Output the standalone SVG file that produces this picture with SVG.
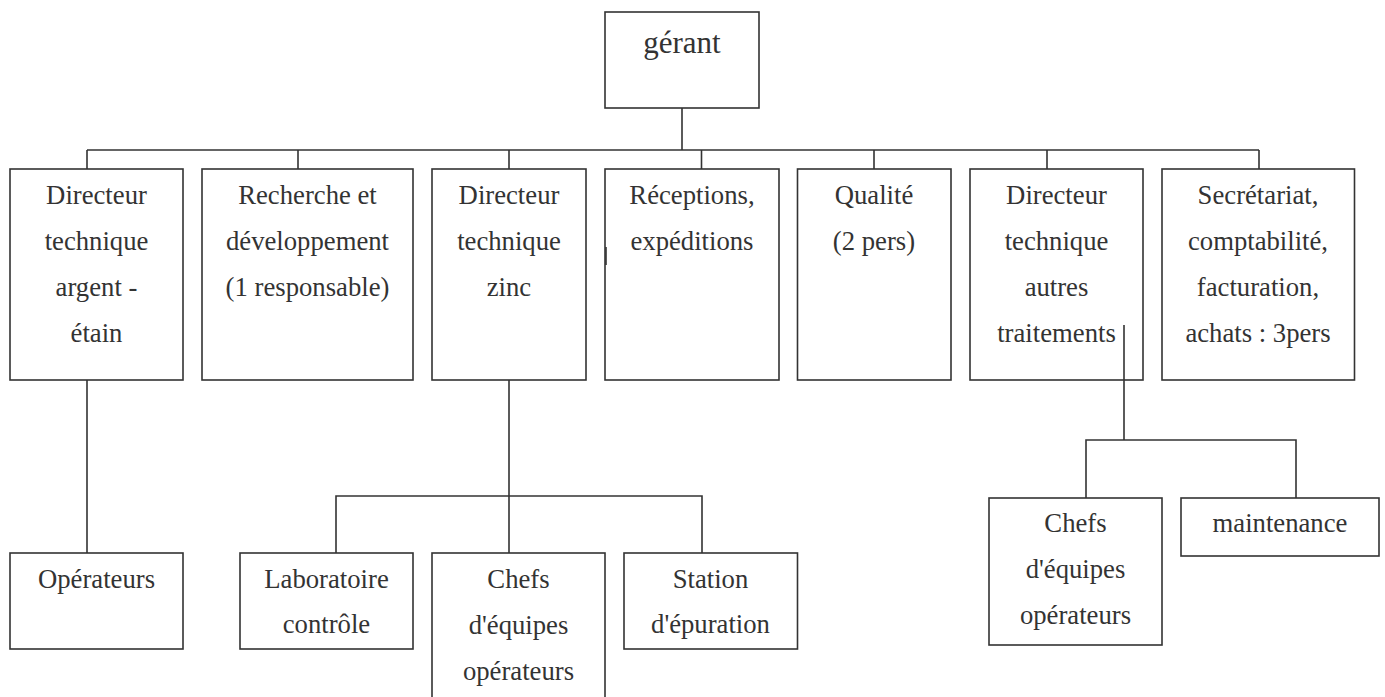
<svg xmlns="http://www.w3.org/2000/svg" width="1385" height="697" viewBox="0 0 1385 697">
<style>
.box{fill:#fff;stroke:#333;stroke-width:1.6}
.ln{fill:none;stroke:#333;stroke-width:1.6}
text{font-family:"Liberation Serif","Times New Roman",serif;font-size:26.7px;fill:#333;text-anchor:middle}
.big{font-size:31px}
</style>
<rect width="1385" height="697" fill="#fff"/>
<g id="gerant"><rect class="box" x="605" y="12" width="154" height="96"/><text class="big" x="682" y="53">gérant</text></g>
<g id="dir-argent"><rect class="box" x="10" y="169" width="173" height="211"/>
<text x="96.5" y="204">Directeur</text><text x="96.5" y="250">technique</text><text x="96.5" y="296">argent -</text><text x="96.5" y="342">étain</text></g>
<g id="recherche"><rect class="box" x="202" y="169" width="211" height="211"/>
<text x="307.5" y="204">Recherche et</text><text x="307.5" y="250">développement</text><text x="307.5" y="296">(1 responsable)</text></g>
<g id="dir-zinc"><rect class="box" x="432" y="169" width="154" height="211"/>
<text x="509" y="204">Directeur</text><text x="509" y="250">technique</text><text x="509" y="296">zinc</text></g>
<g id="receptions"><rect class="box" x="605" y="169" width="174" height="211"/>
<text x="692" y="204">Réceptions,</text><text x="692" y="250">expéditions</text></g>
<g id="qualite"><rect class="box" x="797.5" y="169" width="153.5" height="211"/>
<text x="874" y="204">Qualité</text><text x="874" y="250">(2 pers)</text></g>
<g id="dir-autres"><rect class="box" x="970" y="169" width="173" height="211"/>
<text x="1056.5" y="204">Directeur</text><text x="1056.5" y="250">technique</text><text x="1056.5" y="296">autres</text><text x="1056.5" y="342">traitements</text></g>
<g id="secretariat"><rect class="box" x="1162" y="169" width="192.5" height="211"/>
<text x="1258" y="204">Secrétariat,</text><text x="1258" y="250">comptabilité,</text><text x="1258" y="296">facturation,</text><text x="1258" y="342">achats : 3pers</text></g>
<g id="operateurs"><rect class="box" x="10" y="553" width="173" height="96"/>
<text x="96.5" y="588">Opérateurs</text></g>
<g id="laboratoire"><rect class="box" x="240" y="553" width="173" height="96"/>
<text x="326.5" y="588">Laboratoire</text><text x="326.5" y="633">contrôle</text></g>
<g id="chefs-zinc"><rect class="box" x="432" y="553" width="173" height="150"/>
<text x="518.5" y="588">Chefs</text><text x="518.5" y="634">d'équipes</text><text x="518.5" y="680">opérateurs</text></g>
<g id="station"><rect class="box" x="624" y="553" width="173.5" height="96"/>
<text x="710.5" y="588">Station</text><text x="710.5" y="633">d'épuration</text></g>
<g id="chefs-autres"><rect class="box" x="989" y="498" width="173" height="147"/>
<text x="1075.5" y="532">Chefs</text><text x="1075.5" y="578">d'équipes</text><text x="1075.5" y="624">opérateurs</text></g>
<g id="maintenance"><rect class="box" x="1181" y="498" width="198" height="58"/>
<text x="1280" y="532">maintenance</text></g>
<g id="connectors">
<path class="ln" d="M682 108V150M87 150H1259M87 150V169M298 150V169M509 150V169M701.5 150V169M874 150V169M1047 150V169M1259 150V169"/>
<path class="ln" d="M87 380V553"/>
<path class="ln" d="M509 380V553M336 553V496H702V553"/>
<path class="ln" d="M1124 325V440M1086 498V440H1296V498"/>
<path class="ln" d="M606 247V265" stroke-width="2.2"/>
</g>
</svg>
